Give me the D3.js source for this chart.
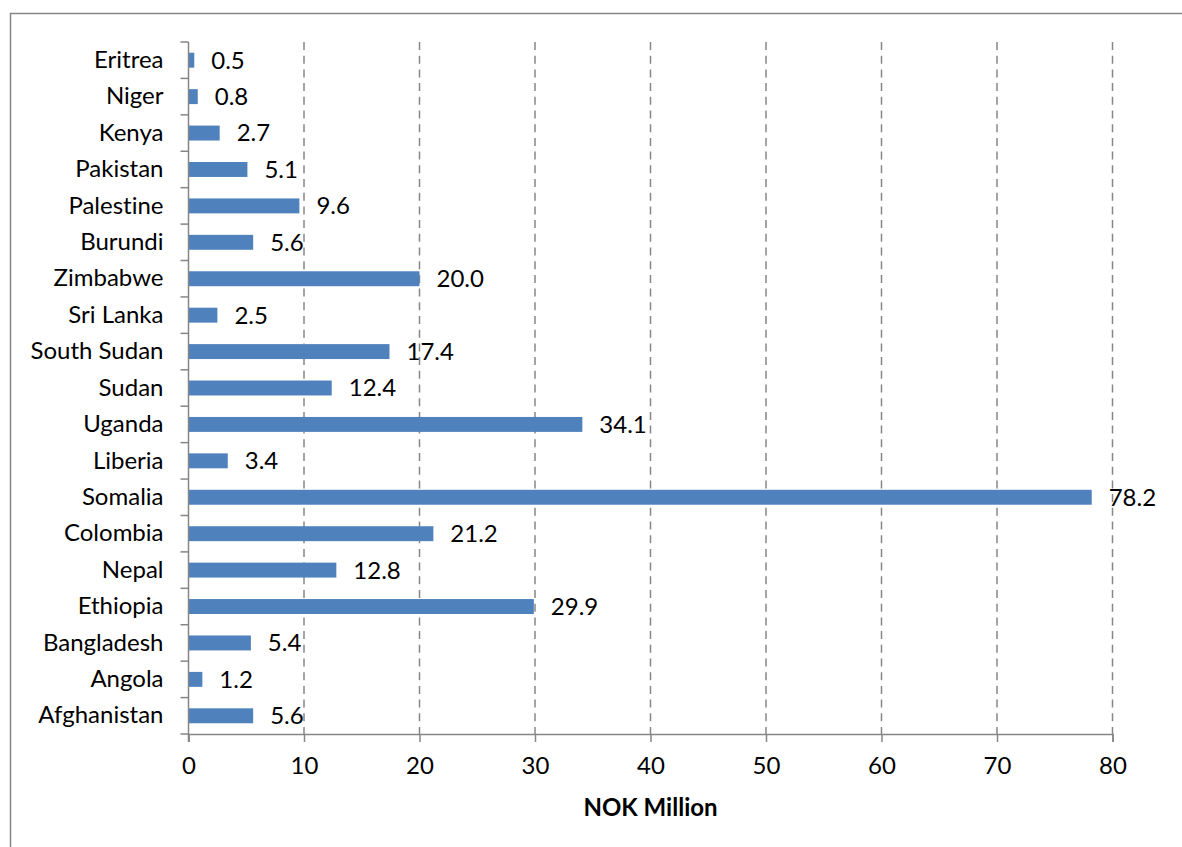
<!DOCTYPE html>
<html>
<head>
<meta charset="utf-8">
<script src="https://cdn.jsdelivr.net/npm/d3@7"></script>
<style>
  body { margin: 0; background: #fff; }
  text { font-family: Lato, "Open Sans", sans-serif; fill: #000; font-variant-ligatures: none; }
</style>
</head>
<body>
<div id="chart"></div>
<script>
// data, top to bottom as in the picture
var countries = ["Eritrea", "Niger", "Kenya", "Pakistan", "Palestine", "Burundi", "Zimbabwe",
  "Sri Lanka", "South Sudan", "Sudan", "Uganda", "Liberia", "Somalia", "Colombia", "Nepal",
  "Ethiopia", "Bangladesh", "Angola", "Afghanistan"];
var amounts = [0.5, 0.8, 2.7, 5.1, 9.6, 5.6, 20.0, 2.5, 17.4, 12.4, 34.1, 3.4, 78.2, 21.2,
  12.8, 29.9, 5.4, 1.2, 5.6];
var xTicks = [0, 10, 20, 30, 40, 50, 60, 70, 80];
var axisTitle = "NOK Million";

var svgWidth = 1182;
var svgHeight = 847;

var margin = { top: 42, right: 69.5, bottom: 113, left: 188.5 };
var width = svgWidth - margin.left - margin.right;
var height = svgHeight - margin.top - margin.bottom;

var grey = "#868686";
var barColor = "#4F81BD";
var fontSize = "24px";

var svg = d3.select("#chart")
  .append("svg")
  .attr("width", svgWidth)
  .attr("height", svgHeight);

// outer frame
svg.append("rect")
  .attr("x", 10.5)
  .attr("y", 13.5)
  .attr("width", svgWidth)
  .attr("height", svgHeight)
  .attr("fill", "none")
  .attr("stroke", grey)
  .attr("stroke-width", 1.5);

var chartGroup = svg.append("g")
  .attr("transform", `translate(${margin.left}, ${margin.top})`);

var xScale = d3.scaleLinear()
  .domain([0, 80])
  .range([0, width]);

var yScale = d3.scaleBand()
  .domain(countries)
  .range([0, height])
  .paddingInner(0.59)
  .paddingOuter(0.295);

// dashed gridlines
chartGroup.selectAll(".grid")
  .data(xTicks.slice(1))
  .enter()
  .append("line")
  .attr("class", "grid")
  .attr("x1", d => xScale(d))
  .attr("x2", d => xScale(d))
  .attr("y1", 0)
  .attr("y2", height)
  .attr("stroke", grey)
  .attr("stroke-width", 1.5)
  .attr("stroke-dasharray", "8,5.7");

// bars
chartGroup.selectAll(".bar")
  .data(amounts)
  .enter()
  .append("rect")
  .attr("class", "bar")
  .attr("x", 0)
  .attr("y", (d, i) => yScale(countries[i]))
  .attr("width", d => xScale(d))
  .attr("height", yScale.bandwidth())
  .attr("fill", barColor);

// value labels
chartGroup.selectAll(".val")
  .data(amounts)
  .enter()
  .append("text")
  .attr("class", "val")
  .attr("x", d => xScale(d) + 17)
  .attr("y", (d, i) => yScale(countries[i]) + yScale.bandwidth() / 2)
  .attr("dy", "0.35em")
  .style("font-size", fontSize)
  .text(d => d.toFixed(1));

// x axis
var bottomAxis = d3.axisBottom(xScale)
  .tickValues(xTicks)
  .tickSize(8)
  .tickPadding(15)
  .tickFormat(d3.format("d"));

var xAxis = chartGroup.append("g")
  .attr("transform", `translate(0, ${height})`)
  .call(bottomAxis);
xAxis.select(".domain").attr("stroke", grey).attr("stroke-width", 1.5);
xAxis.selectAll(".tick line").attr("stroke", grey).attr("stroke-width", 1.5);
xAxis.selectAll("text").style("font-size", fontSize).attr("fill", "#000");

// y axis: labels centred on bands, ticks between bands
var leftAxis = d3.axisLeft(yScale)
  .tickSize(0)
  .tickPadding(25);

var yAxis = chartGroup.append("g").call(leftAxis);
yAxis.select(".domain").remove();
yAxis.selectAll("text").style("font-size", fontSize).attr("fill", "#000");

var step = yScale.step();
var edges = d3.range(countries.length + 1).map(i => i * step);

chartGroup.selectAll(".ytick")
  .data(edges)
  .enter()
  .append("line")
  .attr("class", "ytick")
  .attr("x1", -8)
  .attr("x2", 0)
  .attr("y1", d => d)
  .attr("y2", d => d)
  .attr("stroke", grey)
  .attr("stroke-width", 1.5);

chartGroup.append("line")
  .attr("x1", 0)
  .attr("x2", 0)
  .attr("y1", 0)
  .attr("y2", height + 8)
  .attr("stroke", grey)
  .attr("stroke-width", 1.5);

// axis title
chartGroup.append("text")
  .attr("x", width / 2)
  .attr("y", height + 74)
  .attr("dy", "0.35em")
  .attr("text-anchor", "middle")
  .style("font-size", fontSize)
  .style("font-weight", "bold")
  .text(axisTitle);
</script>
</body>
</html>
